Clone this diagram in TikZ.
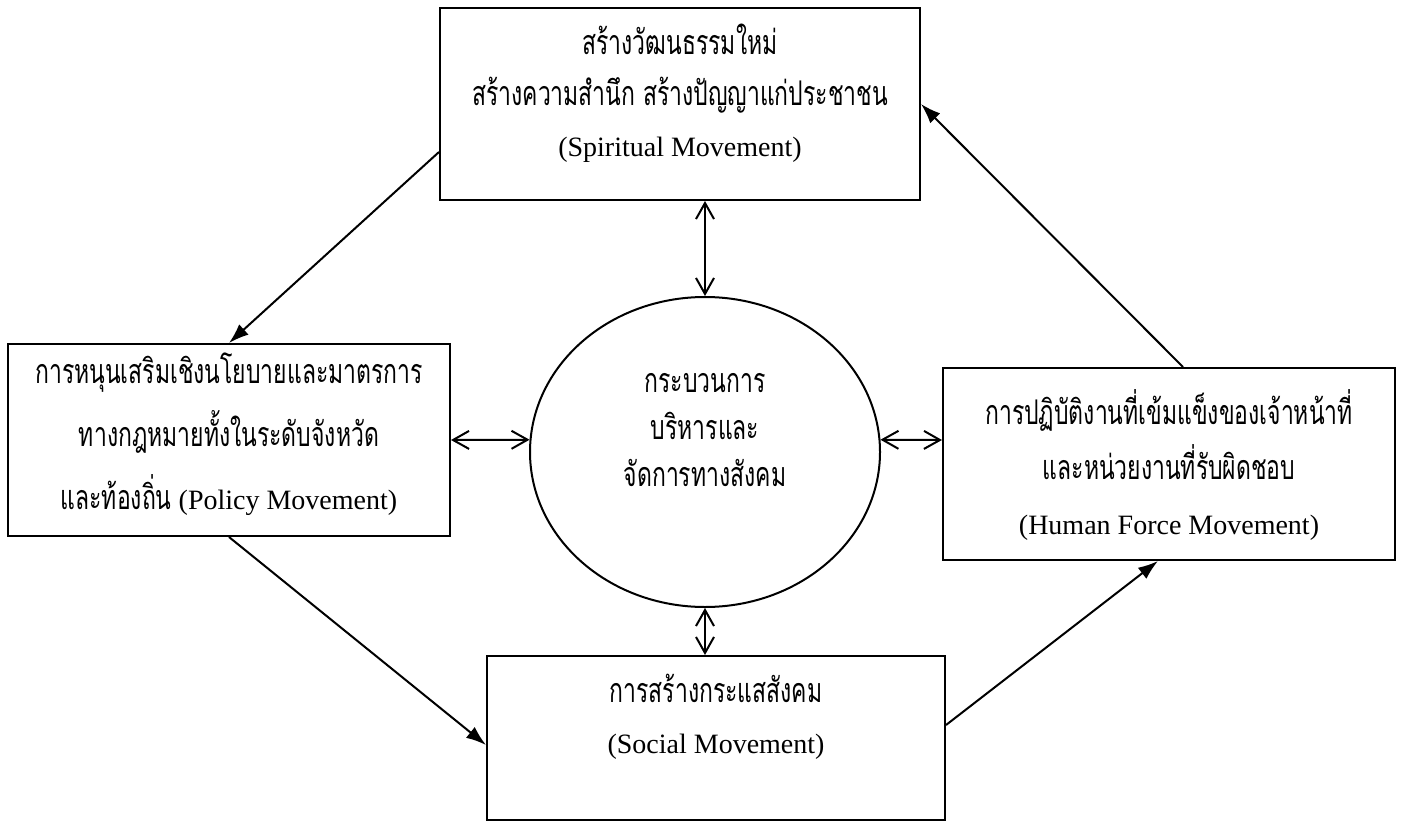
\documentclass[tikz,border=0pt]{standalone}
\usepackage{fontspec}
\setmainfont{Liberation Serif}
\newfontfamily\thaifont[Script=Thai,FakeStretch=0.675]{Loma}
\usetikzlibrary{shapes.geometric,arrows.meta}
\newcommand{\tht}[1]{{\thaifont\fontsize{17}{26}\selectfont #1}}
\newcommand{\topgap}[1]{\rule{0pt}{#1}}
\newcommand{\botgap}[1]{\rule[-#1]{0pt}{#1}}
\setlength{\lineskiplimit}{-100pt}

\begin{document}
\begin{tikzpicture}[x=0.5pt,y=-0.5pt,
    box/.style={draw, line width=1pt, inner sep=0pt, align=center, font=\fontsize{14}{25.5}\selectfont},
    one/.style={-{Latex[length=10pt,width=7pt]}, line width=1pt},
    two/.style={{Straight Barb[length=8pt,width=9pt]}-{Straight Barb[length=8pt,width=9pt]}, line width=1pt}]
    \useasboundingbox (0,0) rectangle (1407,824);

    \node[box, minimum width=240pt] (spirit) at (680,104) {\topgap{23pt}\tht{สร้างวัฒนธรรมใหม่}\\ \tht{สร้างความสำนึก สร้างปัญญาแก่ประชาชน}\\ (Spiritual Movement)\botgap{22pt}};
    \node[box, minimum width=221pt, font=\fontsize{14}{31.5}\selectfont] (policy) at (229,440) {\topgap{19.5pt}\tht{การหนุนเสริมเชิงนโยบายและมาตรการ}\\ \tht{ทางกฎหมายทั้งในระดับจังหวัด}\\ \tht{และท้องถิ่น} (Policy Movement)\botgap{13.5pt}};
    \node[box, minimum width=226pt, font=\fontsize{14}{27.5}\selectfont] (human) at (1169,464) {\topgap{28pt}\tht{การปฏิบัติงานที่เข้มแข็งของเจ้าหน้าที่}\\ \tht{และหน่วยงานที่รับผิดชอบ}\\ (Human Force Movement)\botgap{13pt}};
    \node[box, minimum width=229pt] (social) at (716,738) {\topgap{23pt}\tht{การสร้างกระแสสังคม}\\ (Social Movement)\botgap{33.5pt}};
    \node[box, ellipse, minimum width=175pt, minimum height=155pt, font=\fontsize{14}{23.5}\selectfont] (core) at (705,452) {\topgap{10pt}\tht{กระบวนการ}\\ \tht{บริหารและ}\\ \tht{จัดการทางสังคม}\botgap{23pt}};

    \draw[one] ([yshift=-24pt]spirit.west) -- (policy.north);
    \draw[one] (policy.south) -- ([yshift=-3.5pt]social.west);
    \draw[one] ([yshift=6.5pt]social.east) -- ([xshift=-5.5pt]human.south);
    \draw[one] ([xshift=7pt]human.north) -- (spirit.east);

    \draw[two] (spirit.south -| core.north) -- (core.north);
    \draw[two] (core.south) -- (social.north -| core.south);
    \draw[two] (policy.east) -- (core.176);
    \draw[two] ([yshift=12pt]human.west) -- (core.4);
    
\end{tikzpicture}
\end{document}
